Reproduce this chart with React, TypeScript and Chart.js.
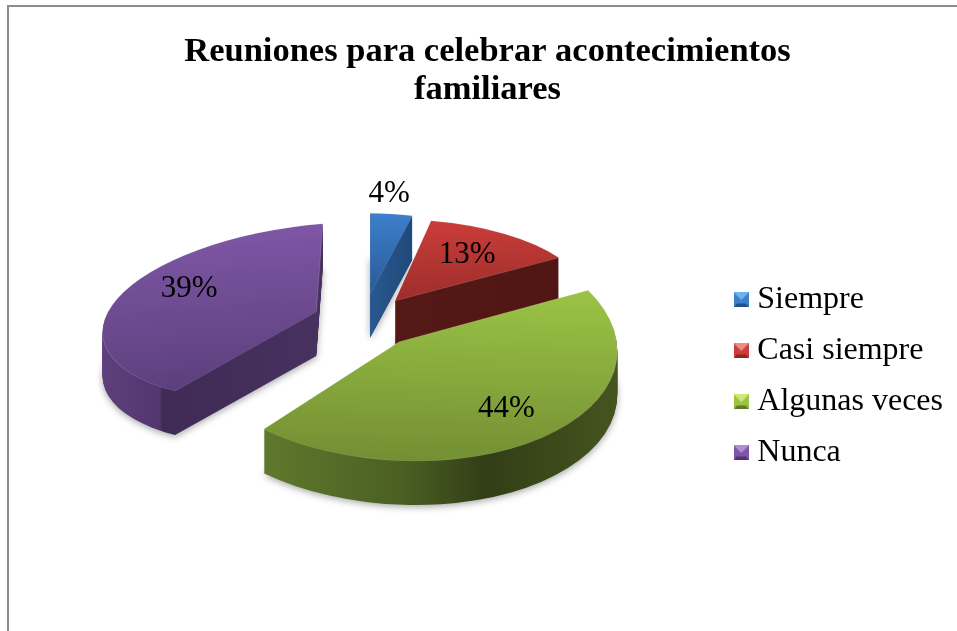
import React, { useEffect, useRef } from "react";
import { Chart, registerables } from "chart.js";

Chart.register(...registerables);

const categories = ["Siempre", "Casi siempre", "Algunas veces", "Nunca"];
const values = [4, 13, 44, 39];
const titleLines = ["Reuniones para celebrar acontecimientos", "familiares"];

const topColors = ["#3d7fcb", "#cb3d39", "#9bc446", "#7e56a5"];
const bottomColors = ["#2a5a97", "#9d2e2b", "#738f33", "#5c3f7c"];
const legendLight = ["#6fb2f0", "#f08a85", "#cfe878", "#b08fd8"];
const legendDark = ["#24508a", "#8a2623", "#627a2a", "#4e3570"];
const wallStops: [number, string][][] = [
  [[-0.1, "#2d5e9a"], [0.3, "#1d4674"]],
  [[-0.2, "#561917"], [1, "#4f1614"]],
  [[-0.66, "#5f7a2d"], [0, "#4a5f22"], [0.38, "#323e16"], [1, "#45551f"]],
  [[-1, "#5e3f7e"], [-0.71, "#52366e"], [-0.7, "#3f2b55"], [0, "#47315f"]],
];

// 3D view: each exploded slice has its own perspective projection [a, b, c, d]
const projection = [
  [0.78, 0, 0, 0.37],
  [0.89, -0.02, 0.057, 0.374],
  [1, 0.03, 0.02, 0.546],
  [0.98, -0.08, -0.03, 0.405],
];
const explode = [32, 47, 52, 53];
const tilt = [0.85, 0.54, 0.52, 0.5];
const labelRadius = [119, 108, 168, 135];
const labelNudge = [4, 6, 0, 0];
const depth = 44;
const pieRadius = 218;
const pieShift = [-6, -55.5];
const drawOrder = [0, 1, 3, 2];

function bevelSquare(i: number) {
  const c = document.createElement("canvas");
  c.width = 15;
  c.height = 15;
  const g = c.getContext("2d")!;
  g.fillStyle = topColors[i];
  g.fillRect(0, 0, 15, 15);
  g.fillStyle = legendLight[i];
  g.beginPath();
  g.moveTo(0, 0);
  g.lineTo(15, 0);
  g.lineTo(7.5, 7.5);
  g.closePath();
  g.fill();
  g.fillStyle = legendDark[i];
  g.beginPath();
  g.moveTo(0, 15);
  g.lineTo(15, 15);
  g.lineTo(12, 11);
  g.lineTo(3, 11);
  g.closePath();
  g.fill();
  return c;
}

const pie3d = {
  id: "pie3d",
  beforeDraw(chart: any) {
    const { ctx, width, height } = chart;
    ctx.save();
    ctx.fillStyle = "#8c8c8c";
    ctx.fillRect(7, 5, width - 7, 2);
    ctx.fillRect(7, 5, 2, height - 5);
    ctx.restore();
  },
  beforeDatasetDraw(chart: any) {
    const { ctx } = chart;
    const arcs = chart.getDatasetMeta(0).data;
    const anchor = (i: number) => {
      const a = arcs[i];
      const mid = (a.startAngle + a.endAngle) / 2;
      return {
        mid,
        x: a.x + pieShift[0] + Math.cos(mid) * explode[i],
        y: a.y + pieShift[1] + Math.sin(mid) * explode[i] * tilt[i],
      };
    };
    for (const i of drawOrder) {
      const a = arcs[i];
      const R = a.outerRadius;
      const p = anchor(i);
      const m = projection[i];
      const enter = (dy: number) => {
        ctx.save();
        ctx.translate(p.x, p.y + dy);
        ctx.transform(m[0], m[1], m[2], m[3], 0, 0);
        ctx.translate(-a.x, -a.y);
      };
      const paint = (fill: any, border = 0) => {
        const face = Object.create(a, {
          options: {
            value: {
              ...a.options,
              backgroundColor: fill,
              borderWidth: border,
              borderColor: "rgba(255,255,255,0.18)",
              offset: 0,
            },
          },
        });
        a.draw.call(face, ctx);
      };
      // side walls
      for (let d = depth; d >= 1; d--) {
        enter(d);
        const g = ctx.createLinearGradient(a.x - R, 0, a.x + R, 0);
        const stops = wallStops[i];
        for (const [f, col] of stops) g.addColorStop((f + 1) / 2, col);
        if (d === depth) {
          ctx.shadowColor = "rgba(0,0,0,0.35)";
          ctx.shadowBlur = 7;
          ctx.shadowOffsetY = 2;
        }
        paint(g);
        ctx.restore();
      }
      // top face
      enter(0);
      const sins = [Math.sin(a.startAngle), Math.sin(a.endAngle), 0];
      if (a.startAngle < Math.PI / 2 && a.endAngle > Math.PI / 2) sins.push(1);
      const y0 = a.y + R * Math.min(...sins);
      const y1 = a.y + R * Math.max(...sins);
      const g = ctx.createLinearGradient(0, y0, 0, y1);
      g.addColorStop(0, topColors[i]);
      g.addColorStop(1, bottomColors[i]);
      paint(g, 1);
      ctx.restore();
    }
    // value labels
    ctx.save();
    ctx.fillStyle = "#000";
    ctx.font = "31px 'Liberation Serif'";
    ctx.textAlign = "center";
    ctx.textBaseline = "middle";
    values.forEach((v, i) => {
      const p = anchor(i);
      ctx.fillText(
        `${v}%`,
        p.x + Math.cos(p.mid) * labelRadius[i] + labelNudge[i],
        p.y + Math.sin(p.mid) * labelRadius[i] * tilt[i]
      );
    });
    ctx.restore();
    return false;
  },
};

export default function App() {
  const ref = useRef<HTMLCanvasElement>(null);
  useEffect(() => {
    const chart = new Chart(ref.current!, {
      type: "pie",
      data: {
        labels: categories,
        datasets: [{ data: values, backgroundColor: topColors, borderWidth: 0 }],
      },
      options: {
        responsive: false,
        animation: false,
        radius: pieRadius,
        layout: { padding: { left: 22, right: 4, top: 0, bottom: 0 } },
        plugins: {
          tooltip: { enabled: false },
          title: {
            display: true,
            text: titleLines,
            color: "#000",
            font: { family: "'Liberation Serif'", size: 34.5, weight: "bold", lineHeight: 1.1 },
            padding: { top: 33, bottom: 13 },
          },
          legend: {
            position: "right",
            fullSize: false,
            labels: {
              color: "#000",
              font: { family: "'Liberation Serif'", size: 32 },
              padding: 19,
              usePointStyle: true,
              boxWidth: 15,
              boxHeight: 15,
              pointStyleWidth: 0.01,
              generateLabels: (c: any) =>
                (Chart.overrides.pie.plugins.legend.labels.generateLabels as any)(c).map(
                  (l: any, i: number) => ({ ...l, pointStyle: bevelSquare(i) })
                ),
            },
          },
        },
      } as any,
      plugins: [pie3d as any],
    });
    return () => chart.destroy();
  }, []);
  return (
    <div style={{ position: "absolute", left: 0, top: 0, width: 957, height: 631, background: "#fff" }}>
      <canvas ref={ref} width={957} height={631} style={{ display: "block" }} />
    </div>
  );
}
